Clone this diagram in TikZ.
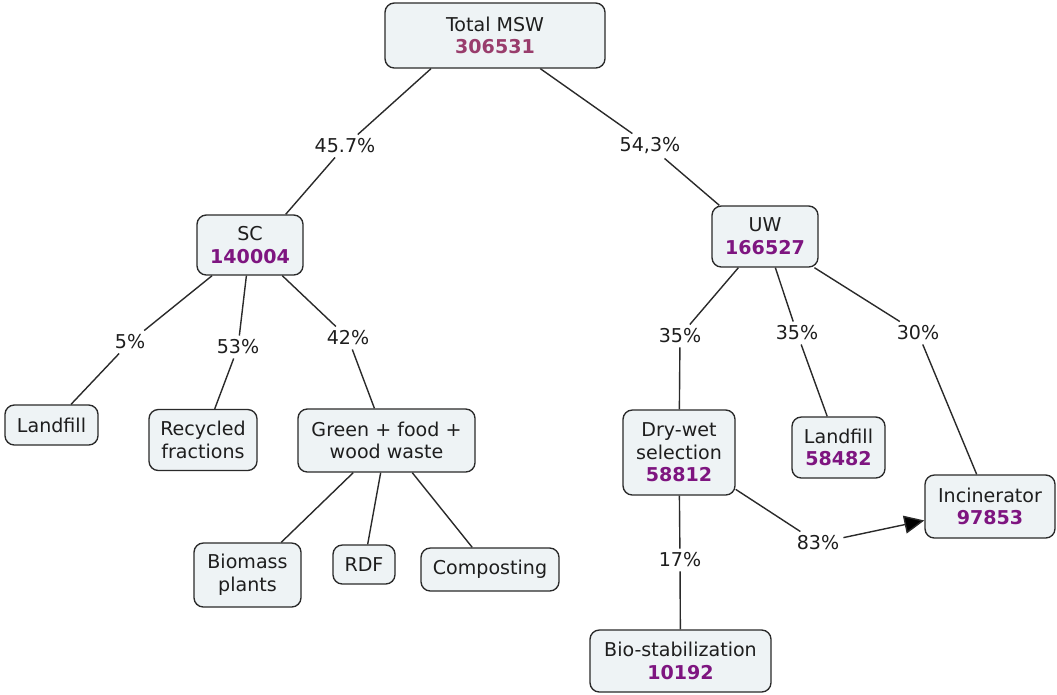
\documentclass[tikz,border=0pt]{standalone}
\usepackage{fontspec}
\setmainfont{DejaVu Sans}
\usetikzlibrary{arrows.meta}
\definecolor{boxfill}{HTML}{EEF3F5}
\definecolor{boxline}{HTML}{2A2A2A}
\definecolor{toppurple}{HTML}{993D6C}
\definecolor{numpurple}{HTML}{7E1580}
\definecolor{txt}{HTML}{1E1E1E}
\newcommand{\num}[2][numpurple]{\textcolor{#1}{\bfseries #2}}
\begin{document}
\begin{tikzpicture}[x=0.75pt,y=-0.75pt,
  every node/.style={font=\fontsize{14.3pt}{17pt}\selectfont, text=txt},
  concept/.style={draw=boxline, line width=1pt, fill=boxfill, rounded corners=7pt,
    align=center, inner sep=2pt},
  sz/.style 2 args={minimum width=#1*0.75pt, minimum height=#2*0.75pt},
  pct/.style={inner sep=3pt, fill=white},
  link/.style={draw=boxline, line width=1.05pt}]
\useasboundingbox (0,0) rectangle (1057,694);
% concepts
\node[concept, sz={220}{65}] (total) at (495,35.5) {Total MSW\\\num[toppurple]{306531}};
\node[concept, sz={106}{60}] (sc) at (250,245) {SC\\\num{140004}};
\node[concept, sz={106}{61}] (uw) at (765,236.5) {UW\\\num{166527}};
\node[concept, sz={93}{40}] (lf1) at (51.5,425) {Landfill};
\node[concept, sz={108}{61}] (rec) at (203,440) {Recycled\\fractions};
\node[concept, sz={177}{63}] (green) at (386.5,440.5) {Green + food +\\wood waste};
\node[concept, sz={107}{64}] (bio) at (247.5,575) {Biomass\\plants};
\node[concept, sz={62}{39}] (rdf) at (364,564.5) {RDF};
\node[concept, sz={138}{43}] (comp) at (490,569.5) {Composting};
\node[concept, sz={112}{85}] (dry) at (679,452.5) {Dry-wet\\selection\\\num{58812}};
\node[concept, sz={93}{61}] (lf2) at (838.5,447.5) {Landfill\\\num{58482}};
\node[concept, sz={130}{63}] (inc) at (990,506.5) {Incinerator\\\num{97853}};
\node[concept, sz={181}{62}] (stab) at (680.5,661) {Bio-stabilization\\\num{10192}};
% linking phrases
\node[pct] (p1) at (345,146) {45.7\%};
\node[pct] (p2) at (650,146) {54,3\%};
\node[pct] (p3) at (130,342) {5\%};
\node[pct] (p4) at (238,347) {53\%};
\node[pct] (p5) at (348,338) {42\%};
\node[pct] (p6) at (680,336) {35\%};
\node[pct] (p7) at (797,333) {35\%};
\node[pct] (p8) at (918,333) {30\%};
\node[pct] (p9) at (680,560) {17\%};
\node[pct] (p10) at (818,543) {83\%};
% attachment points on the top-level boxes
\coordinate (totL) at ([xshift=35pt]total.south west);
\coordinate (totR) at ([xshift=-49pt]total.south east);
\coordinate (scT) at ([xshift=-13.5pt]sc.north east);
\coordinate (uwT) at ([xshift=6pt]uw.north west);
% connectors
\draw[link] (totL) -- (p1);
\draw[link] (p1) -- (scT);
\draw[link] (totR) -- (p2);
\draw[link] (p2) -- (uwT);
\draw[link] (sc) -- (p3); \draw[link] (p3) -- (lf1);
\draw[link] (sc) -- (p4); \draw[link] (p4) -- (rec);
\draw[link] (sc) -- (p5); \draw[link] (p5) -- (green);
\draw[link] (green) -- (bio);
\draw[link] (green) -- (rdf);
\draw[link] (green) -- (comp);
\draw[link] (uw) -- (p6); \draw[link] (p6) -- (dry);
\draw[link] (uw) -- (p7); \draw[link] (p7) -- (lf2);
\draw[link] (uw) -- (p8); \draw[link] (p8) -- (inc);
\draw[link] (dry) -- (p9); \draw[link] (p9) -- (stab);
\draw[link] (dry) -- (p10);
\draw[link, -{Triangle[length=15pt,width=13.5pt,fill=black]}] (p10) -- (inc);
\end{tikzpicture}
\end{document}
